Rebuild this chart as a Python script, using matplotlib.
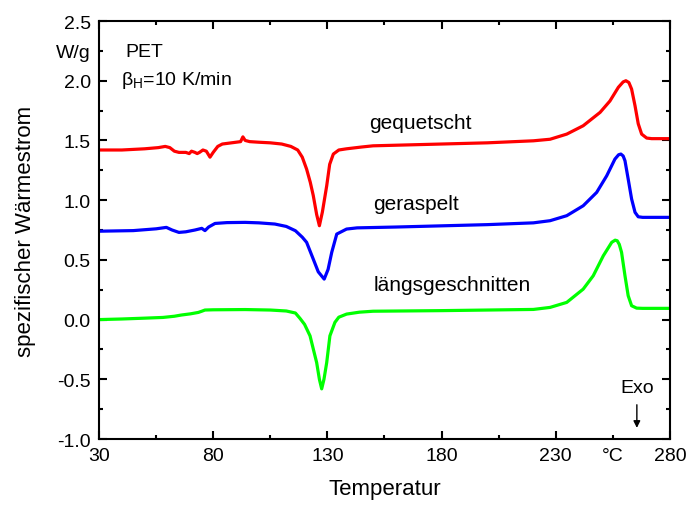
import matplotlib
matplotlib.use("Agg")
import matplotlib.pyplot as plt
from matplotlib.ticker import FixedLocator, FixedFormatter

plt.rcParams['font.family'] = ['Liberation Sans', 'DejaVu Sans']
plt.rcParams['mathtext.fontset'] = 'custom'
plt.rcParams['mathtext.rm'] = 'Liberation Sans'
plt.rcParams['mathtext.it'] = 'Liberation Sans'

# gequetscht (red)
t_red = [30, 40, 50, 56, 59, 61, 63, 65, 68, 69.5, 70.5, 72, 73, 74, 75.5, 77, 78.6, 80, 82, 84, 88, 92, 93, 94, 96,
         100, 105, 110, 114, 117, 119, 120.9, 122.5, 123.8, 125.3, 126.5, 127.8, 129.7, 131, 132.6, 135, 138.4, 145,
         150, 170, 200, 220.2, 227.5, 234.8, 242, 249.4, 253.7, 257.4, 259.5, 260.7, 262, 263.2, 264.7, 266.1, 267.6,
         269.8, 272, 280]
y_red = [1.42, 1.42, 1.43, 1.44, 1.45, 1.44, 1.41, 1.40, 1.40, 1.39, 1.41, 1.40, 1.39, 1.40, 1.42, 1.41, 1.36, 1.40, 1.45, 1.47, 1.48, 1.49, 1.53, 1.50, 1.49,
         1.485, 1.48, 1.47, 1.45, 1.42, 1.36, 1.26, 1.15, 1.04, 0.88, 0.786, 0.90, 1.12, 1.30, 1.386, 1.42, 1.43, 1.445,
         1.455, 1.465, 1.48, 1.497, 1.51, 1.553, 1.623, 1.735, 1.83, 1.945, 1.99, 2.0, 1.985, 1.93, 1.79, 1.64, 1.553,
         1.52, 1.515, 1.515]

# geraspelt (blue)
t_blue = [30, 45, 55, 59.5, 62, 65, 68, 72, 75, 76.4, 78, 80.8, 86, 94, 100, 107, 112, 116, 119, 120.9, 123.8, 126, 128.6,
          130.3, 131.9, 134.1, 138.4, 143, 160, 200, 220.2, 227.5, 234.8, 242, 247.9, 252.3, 255.9, 257.5, 258.5, 259.5,
          260.3, 261.7, 263.2, 264.7, 266.1, 268, 280]
y_blue = [0.74, 0.745, 0.76, 0.772, 0.75, 0.73, 0.735, 0.75, 0.764, 0.745, 0.775, 0.805, 0.812, 0.814, 0.81, 0.80, 0.78, 0.744, 0.69, 0.647, 0.507, 0.40, 0.339,
          0.42, 0.563, 0.716, 0.758, 0.768, 0.775, 0.795, 0.81, 0.828, 0.87, 0.953, 1.065, 1.204, 1.344, 1.38, 1.386, 1.37,
          1.33, 1.177, 1.01, 0.898, 0.861, 0.856, 0.856]

# längsgeschnitten (green)
t_green = [30, 40, 50, 58, 63, 66, 70, 73.5, 75, 76.4, 80, 94, 105, 112, 116, 118, 120, 122.4, 124, 125.3, 126.5, 127.5,
           128.5, 129.7, 131.1, 133.3, 135, 138.4, 144, 150, 180, 220.2, 227.5, 234.8, 242, 246.4, 250.8, 254.5, 256.0,
           256.9, 257.8, 258.8, 260.3, 261.7, 263.2, 265.4, 268, 280]
y_green = [0.0, 0.005, 0.012, 0.018, 0.028, 0.038, 0.048, 0.06, 0.07, 0.08, 0.082, 0.084, 0.08, 0.072, 0.055, 0.01, -0.04, -0.136, -0.26, -0.36, -0.50, -0.58,
           -0.50, -0.36, -0.136, -0.023, 0.02, 0.046, 0.062, 0.07, 0.075, 0.085, 0.102, 0.144, 0.255, 0.367, 0.534, 0.647, 0.665,
           0.66, 0.63, 0.563, 0.367, 0.20, 0.116, 0.096, 0.094, 0.094]

x_major = [30, 80, 130, 180, 230, 280]
x_minor = [55, 105, 155, 205, 255]
x_minor_labels = ["", "", "", "", "°C"]
y_major = [-1.0, -0.5, 0.0, 0.5, 1.0, 1.5, 2.0, 2.5]
y_minor = [-0.75, -0.25, 0.25, 0.75, 1.25, 1.75, 2.25]
y_minor_labels = ["", "", "", "", "", "", "W/g"]

fig = plt.figure(figsize=(6.88, 5.06), dpi=100)
ax = fig.add_axes([0.1439, 0.1304, 0.8299, 0.8261])

lw = 2.3
ax.plot(t_red, y_red, color="#ff0000", lw=lw, solid_joinstyle='round')
ax.plot(t_blue, y_blue, color="#0000ff", lw=lw, solid_joinstyle='round')
ax.plot(t_green, y_green, color="#00ff00", lw=lw, solid_joinstyle='round')

ax.set_xlim(30, 280)
ax.set_ylim(-1.0, 2.5)

ax.xaxis.set_major_locator(FixedLocator(x_major))
ax.xaxis.set_major_formatter(FixedFormatter([f"{v:d}" for v in x_major]))
ax.xaxis.set_minor_locator(FixedLocator(x_minor))
ax.xaxis.set_minor_formatter(FixedFormatter(x_minor_labels))
ax.yaxis.set_major_locator(FixedLocator(y_major))
ax.yaxis.set_major_formatter(FixedFormatter([f"{v:.1f}" for v in y_major]))
ax.yaxis.set_minor_locator(FixedLocator(y_minor))
ax.yaxis.set_minor_formatter(FixedFormatter(y_minor_labels))

ax.tick_params(which='both', direction='in', top=True, right=True, labelsize=14, width=1.5)
ax.tick_params(which='major', length=6, pad=6)
ax.tick_params(which='minor', length=3, pad=6)
for s in ax.spines.values():
    s.set_linewidth(1.5)

ax.set_xlabel("Temperatur", fontsize=16, labelpad=10)
ax.set_ylabel("spezifischer Wärmestrom", fontsize=16, labelpad=14)

ax.text(0.047, 0.927, "PET", transform=ax.transAxes, fontsize=14, va='center')
ax.text(0.038, 0.86, r"β$_\mathrm{H}$=10 K/min", transform=ax.transAxes, fontsize=14, va='center')

ax.text(170.5, 1.65, "gequetscht", fontsize=15, ha='center', va='center')
ax.text(168.6, 0.975, "geraspelt", fontsize=15, ha='center', va='center')
ax.text(184.8, 0.29, "längsgeschnitten", fontsize=15, ha='center', va='center')

ax.text(265.5, -0.565, "Exo", fontsize=14, ha='center', va='center')
ax.annotate("", xy=(265.5, -0.93), xytext=(265.5, -0.69),
            arrowprops=dict(arrowstyle='-|>', color='black', lw=1.0, mutation_scale=10))

fig.savefig("out.png", dpi=100)
